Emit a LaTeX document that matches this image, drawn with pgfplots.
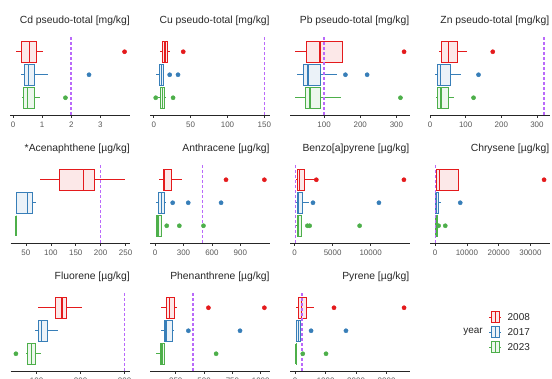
\documentclass[border=0pt]{standalone}
\usepackage{pgfplots}
\pgfplotsset{compat=1.18}
\usepgfplotslibrary{statistics}
\usepackage{fontspec}
\setmainfont{Liberation Sans}
\definecolor{cA}{HTML}{E41A1C}
\definecolor{cB}{HTML}{377EB8}
\definecolor{cC}{HTML}{4DAF4A}
\definecolor{thr}{RGB}{185,105,250}
\newcommand{\bx}[7]{\addplot[boxplot prepared={draw position=#2, lower whisker=#3, lower quartile=#4, median=#5, upper quartile=#6, upper whisker=#7}, draw=#1, fill=#1!10, line width=0.7bp, solid] coordinates {};}
\newcommand{\ol}[2]{\addplot[only marks, mark=*, mark size=2.1bp, color=#1, mark options={solid}] coordinates {#2};}
\newcommand{\thline}[1]{\addplot[thr, line width=1.6bp, dash pattern=on 2.6bp off 2.4bp] coordinates {(#1,0.25) (#1,3.65)};}
\pgfplotsset{
  panel/.style={
    width=119.5bp, height=78.2bp, scale only axis,
    anchor=south west,
    ymin=0.25, ymax=3.65,
    axis x line*=bottom, axis y line=none,
    axis line style={black!85, line width=0.6bp},
    xtick align=outside, major tick length=3bp,
    tick style={black!80, line width=0.6bp},
    xticklabel style={font=\fontsize{8}{9}\selectfont, text=black!65},
    /pgf/number format/assume math mode=true,
    /pgf/number format/1000 sep={},
    scaled x ticks=false,
    every axis title/.style={at={(1,1)}, anchor=base east, yshift=13.6bp, font=\fontsize{10.4}{12}\selectfont, text=black!85, inner sep=0pt},
    boxplot/box extend=0.88,
    boxplot/whisker extend=0,
    boxplot/every median/.style={line width=1.4bp},
  }
}
\begin{document}
\begin{tikzpicture}
\path[use as bounding box] (0,0) rectangle (552bp,379bp);
% ---------- Row 1 ----------
\begin{axis}[panel, at={(10.5bp,264bp)}, xmin=-0.087, xmax=4.017, xtick={0,1,2,3}, title={Cd pseudo-total [mg/kg]}]
\bx{cA}{3}{0.10}{0.27}{0.56}{0.81}{1.04}
\bx{cB}{2}{0.27}{0.39}{0.54}{0.73}{1.19}
\bx{cC}{1}{0.30}{0.35}{0.49}{0.74}{0.92}
\ol{cA}{(3.83,3)}
\ol{cB}{(2.61,2)}
\ol{cC}{(1.80,1)}
\thline{2}
\end{axis}
\begin{axis}[panel, at={(150.3bp,264bp)}, xmin=-4.67, xmax=157.37, xtick={0,50,100,150}, title={Cu pseudo-total [mg/kg]}]
\bx{cA}{3}{8}{11.5}{15}{19}{22}
\bx{cB}{2}{3.6}{7.7}{10.5}{12.6}{13.5}
\bx{cC}{1}{6}{9}{12}{14.4}{17}
\ol{cA}{(40,3)}
\ol{cB}{(21.6,2) (32.9,2)}
\ol{cC}{(2.7,1) (26.2,1)}
\thline{150}
\end{axis}
\begin{axis}[panel, at={(290bp,264bp)}, xmin=6, xmax=336, xtick={100,200,300}, title={Pb pseudo-total [mg/kg]}]
\bx{cA}{3}{21}{51.5}{88.4}{150}{150}
\bx{cB}{2}{25.7}{42}{56}{89.6}{137}
\bx{cC}{1}{21}{47.8}{60.8}{90}{146}
\ol{cA}{(321,3)}
\ol{cB}{(159,2) (219,2)}
\ol{cC}{(311,1)}
\thline{100}
\end{axis}
\begin{axis}[panel, at={(430bp,264bp)}, xmin=-0.25, xmax=335.25, xtick={0,100,200,300}, title={Zn pseudo-total [mg/kg]}]
\bx{cA}{3}{24}{31.5}{52}{76}{103}
\bx{cB}{2}{15}{21}{30}{55.6}{87}
\bx{cC}{1}{16}{21}{31}{50}{68}
\ol{cA}{(176,3)}
\ol{cB}{(136,2)}
\ol{cC}{(122,1)}
\thline{320}
\end{axis}
% ---------- Row 2 ----------
\begin{axis}[panel, at={(10.5bp,136bp)}, xmin=19.1, xmax=258.9, xtick={50,100,150,200,250}, title={*Acenaphthene [µg/kg]}]
\bx{cA}{3}{78}{117}{165}{188}{248}
\bx{cB}{2}{30}{30}{53}{63}{71}
\bx{cC}{1}{30}{30}{30}{30}{30}
\thline{200}
\end{axis}
\begin{axis}[panel, at={(150.3bp,136bp)}, xmin=-50.35, xmax=1211.35, xtick={0,300,600,900}, title={Anthracene [µg/kg]}]
\bx{cA}{3}{42}{88}{101}{175}{287}
\bx{cB}{2}{15}{35}{70}{102}{105}
\bx{cC}{1}{7}{18}{31}{70}{70}
\ol{cA}{(749,3) (1154,3)}
\ol{cB}{(186,2) (350,2) (697,2)}
\ol{cC}{(123,1) (256,1) (511,1)}
\thline{500}
\end{axis}
\begin{axis}[panel, at={(290bp,136bp)}, xmin=-615, xmax=15115, xtick={0,5000,10000}, title={Benzo[a]pyrene [µg/kg]}]
\bx{cA}{3}{130}{350}{650}{1316}{2630}
\bx{cB}{2}{130}{300}{530}{1010}{1900}
\bx{cC}{1}{130}{300}{440}{880}{1000}
\ol{cA}{(2850,3) (14380,3)}
\ol{cB}{(2410,2) (11090,2)}
\ol{cC}{(1670,1) (1970,1) (8550,1)}
\thline{100}
\end{axis}
\begin{axis}[panel, at={(430bp,136bp)}, xmin=-1610, xmax=36010, xtick={0,10000,20000,30000}, title={Chrysene [µg/kg]}]
\bx{cA}{3}{300}{500}{1380}{7200}{7300}
\bx{cB}{2}{100}{100}{420}{1160}{1900}
\bx{cC}{1}{100}{100}{300}{630}{1370}
\ol{cA}{(34300,3)}
\ol{cB}{(7900,2)}
\ol{cC}{(1100,1) (3200,1)}
\thline{100}
\end{axis}
% ---------- Row 3 ----------
\begin{axis}[panel, at={(10.5bp,8bp)}, xmin=40.65, xmax=312.35, xtick={100,200,300}, title={Fluorene [µg/kg]}]
\bx{cA}{3}{104}{142}{158}{168}{204}
\bx{cB}{2}{96}{105}{111}{124}{148}
\bx{cC}{1}{77}{80}{89}{98}{109}
\ol{cC}{(53,1)}
\thline{300}
\end{axis}
\begin{axis}[panel, at={(150.3bp,8bp)}, xmin=25.05, xmax=1079.95, xtick={250,500,750,1000}, title={Phenanthrene [µg/kg]}]
\bx{cA}{3}{120}{171}{194}{238}{264}
\bx{cB}{2}{118}{147}{162}{224}{230}
\bx{cC}{1}{73}{118}{129}{149}{155}
\ol{cA}{(538,3) (1032,3)}
\ol{cB}{(361,2) (817,2)}
\ol{cC}{(606,1)}
\thline{400}
\end{axis}
\begin{axis}[panel, at={(290bp,8bp)}, xmin=-168, xmax=3751, xtick={0,1000,2000,3000}, title={Pyrene [µg/kg]}]
\bx{cA}{3}{33}{108}{218}{360}{620}
\bx{cB}{2}{22}{54}{108}{163}{272}
\bx{cC}{1}{10}{25}{30}{40}{55}
\ol{cA}{(1275,3) (3573,3)}
\ol{cB}{(523,2) (1667,2)}
\ol{cC}{(251,1) (1013,1)}
\thline{220}
\end{axis}
% ---------- Legend ----------
\node[anchor=east, font=\fontsize{10}{12}\selectfont, text=black!85, inner sep=0pt] at (483bp,47bp) {year};
\foreach \c/\yy/\lab in {cA/62/2008, cB/47/2017, cC/32/2023}{
  \draw[\c, line width=0.7bp] (489bp,\yy bp) -- (491.7bp,\yy bp);
  \draw[\c, line width=0.7bp] (499bp,\yy bp) -- (501bp,\yy bp);
  \draw[\c, fill=\c!10, line width=0.7bp] (491.7bp,\yy bp-5.2bp) rectangle (499bp,\yy bp+5.2bp);
  \draw[\c, line width=1.3bp] (495.3bp,\yy bp-5.2bp) -- (495.3bp,\yy bp+5.2bp);
  \node[anchor=west, font=\fontsize{10}{12}\selectfont, text=black!85, inner sep=0pt] at (507.5bp,\yy bp) {\lab};
}
\end{tikzpicture}
\end{document}
